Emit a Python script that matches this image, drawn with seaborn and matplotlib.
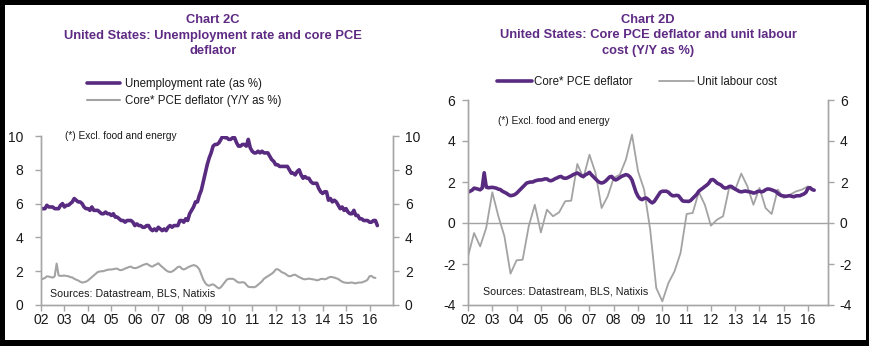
import numpy as np
import pandas as pd
import matplotlib
matplotlib.use("Agg")
import matplotlib.pyplot as plt
import seaborn as sns
from matplotlib.patches import Rectangle

# ---- data -------------------------------------------------------------
# US unemployment rate, monthly, Jan 2002 - May 2016 (%)
unemployment = [
    5.7, 5.7, 5.7, 5.9, 5.8, 5.8, 5.8, 5.7, 5.7, 5.7, 5.9, 6.0,
    5.8, 5.9, 5.9, 6.0, 6.1, 6.3, 6.2, 6.1, 6.1, 6.0, 5.8, 5.7,
    5.7, 5.6, 5.8, 5.6, 5.6, 5.6, 5.5, 5.4, 5.4, 5.5, 5.4, 5.4,
    5.3, 5.4, 5.2, 5.2, 5.1, 5.0, 5.0, 4.9, 5.0, 5.0, 5.0, 4.9,
    4.7, 4.8, 4.7, 4.7, 4.6, 4.6, 4.7, 4.7, 4.5, 4.4, 4.5, 4.4,
    4.6, 4.5, 4.4, 4.5, 4.4, 4.6, 4.7, 4.6, 4.7, 4.7, 4.7, 5.0,
    5.0, 4.9, 5.1, 5.0, 5.4, 5.6, 5.8, 6.1, 6.1, 6.5, 6.8, 7.3,
    7.8, 8.3, 8.7, 9.0, 9.4, 9.5, 9.5, 9.6, 9.8, 10.0, 9.9, 9.9,
    9.8, 9.8, 9.9, 9.9, 9.6, 9.4, 9.4, 9.5, 9.5, 9.4, 9.8, 9.3,
    9.1, 9.0, 9.0, 9.1, 9.0, 9.1, 9.0, 9.0, 9.0, 8.8, 8.6, 8.5,
    8.3, 8.3, 8.2, 8.2, 8.2, 8.2, 8.2, 8.0, 7.8, 7.8, 7.7, 7.9,
    8.0, 7.7, 7.5, 7.6, 7.5, 7.5, 7.3, 7.2, 7.2, 7.2, 6.9, 6.7,
    6.6, 6.7, 6.7, 6.2, 6.3, 6.1, 6.2, 6.1, 5.9, 5.7, 5.8, 5.6,
    5.7, 5.5, 5.4, 5.4, 5.6, 5.3, 5.3, 5.1, 5.1, 5.0, 5.0, 5.0,
    4.9, 4.9, 5.0, 5.0, 4.7,
]

# Core PCE deflator (excl. food and energy), Y/Y %, monthly, Jan 2002 - Apr 2016
core_pce = [
    1.50, 1.55, 1.60, 1.70, 1.68, 1.65, 1.62, 1.70, 2.45, 1.75, 1.72, 1.73,
    1.74, 1.72, 1.70, 1.65, 1.63, 1.55, 1.50, 1.45, 1.38, 1.33, 1.35, 1.38,
    1.45, 1.55, 1.65, 1.75, 1.85, 1.95, 1.98, 2.00, 2.00, 2.05, 2.08, 2.10,
    2.10, 2.12, 2.15, 2.15, 2.08, 2.06, 2.10, 2.16, 2.20, 2.25, 2.27, 2.20,
    2.18, 2.20, 2.25, 2.30, 2.36, 2.40, 2.44, 2.38, 2.30, 2.27, 2.35, 2.40,
    2.47, 2.35, 2.25, 2.15, 2.05, 1.98, 1.95, 1.98, 2.05, 2.15, 2.25, 2.27,
    2.15, 2.10, 2.15, 2.22, 2.28, 2.32, 2.36, 2.33, 2.25, 2.10, 1.80, 1.50,
    1.30, 1.18, 1.14, 1.20, 1.22, 1.15, 1.05, 0.98, 1.05, 1.20, 1.35, 1.50,
    1.55, 1.55, 1.55, 1.50, 1.40, 1.33, 1.33, 1.35, 1.33, 1.20, 1.08, 1.06,
    1.06, 1.05, 1.10, 1.20, 1.30, 1.40, 1.55, 1.63, 1.70, 1.78, 1.85, 1.95,
    2.10, 2.12, 2.05, 1.95, 1.90, 1.85, 1.75, 1.70, 1.72, 1.78, 1.79, 1.72,
    1.65, 1.60, 1.54, 1.52, 1.54, 1.56, 1.54, 1.52, 1.50, 1.46, 1.48, 1.54,
    1.55, 1.52, 1.55, 1.62, 1.66, 1.65, 1.62, 1.58, 1.54, 1.45, 1.38, 1.33,
    1.32, 1.30, 1.32, 1.33, 1.30, 1.28, 1.32, 1.33, 1.33, 1.38, 1.42, 1.50,
    1.70, 1.72, 1.63, 1.60,
]

# Unit labour cost, Y/Y %, quarterly, 2002 Q1 - 2016 Q1
unit_labour_cost = [
    -1.63, -0.49, -1.14, -0.24,
    1.50, 0.33, -0.65, -2.47,
    -1.82, -1.79, -0.16, 0.89,
    -0.46, 0.65, 0.33, 0.52,
    1.06, 1.09, 2.88, 2.20,
    3.33, 2.44, 0.73, 1.30,
    2.20, 2.36, 3.09, 4.31,
    2.52, 1.63, -0.33, -3.17,
    -3.82, -2.93, -2.36, -1.46,
    0.44, 0.49, 1.51, 0.89,
    -0.13, 0.16, 0.33, 1.71,
    1.63, 2.41, 1.79, 0.89,
    1.71, 0.73, 0.44, 1.63,
    1.22, 1.38, 1.54, 1.63,
    1.79,
]

year_ticks = list(range(2002, 2017))
year_labels = ["02", "03", "04", "05", "06", "07", "08", "09",
               "10", "11", "12", "13", "14", "15", "16"]

START = 2002.0
df_unemp = pd.DataFrame({"t": START + np.arange(len(unemployment)) / 12,
                         "v": unemployment})
df_pce = pd.DataFrame({"t": START + np.arange(len(core_pce)) / 12,
                       "v": core_pce})
df_ulc = pd.DataFrame({"t": START + np.arange(len(unit_labour_cost)) / 4,
                       "v": unit_labour_cost})

# ---- style ------------------------------------------------------------
sns.set_style("white")
plt.rcParams["font.family"] = ["Liberation Sans", "DejaVu Sans"]

PURPLE = "#582a80"
TITLE_PURPLE = "#5e2a84"
GREY = "#a3a3a3"
SPINE = "#a6a6a6"
TEXT = "#1a1a1a"

W, H = 870, 346
fig = plt.figure(figsize=(W / 100, H / 100), dpi=100)
fig.patch.set_facecolor("white")


def fx(px):
    return px / W


def fy(py):
    return 1 - py / H


def style_axes(ax, ax_r, ylim, yticks, xlim, lpad, rpad):
    ax.set_xlim(*xlim)
    ax.set_ylim(*ylim)
    ax_r.set_ylim(*ylim)
    ax.set_yticks(yticks)
    ax_r.set_yticks(yticks)
    ax.set_yticklabels([str(t) for t in yticks])
    ax_r.set_yticklabels([str(t) for t in yticks])
    ax.set_xticks(year_ticks)
    ax.set_xticklabels(year_labels)
    ax.set_xlabel("")
    ax.set_ylabel("")
    ax_r.set_ylabel("")
    for a in (ax, ax_r):
        a.spines["top"].set_visible(False)
        for s in ("left", "right", "bottom"):
            a.spines[s].set_color(SPINE)
            a.spines[s].set_linewidth(1.0)
        a.grid(False)
    ax.tick_params(axis="y", left=True, length=4, width=1, color=SPINE,
                   labelsize=10, labelcolor=TEXT, pad=lpad, direction="out")
    ax.tick_params(axis="x", bottom=True, length=4, width=1, color=SPINE,
                   labelsize=10, labelcolor=TEXT, pad=1.5, direction="out")
    ax_r.tick_params(axis="y", right=True, length=4, width=1, color=SPINE,
                     labelsize=10, labelcolor=TEXT, pad=rpad, direction="out")


# ---- Chart 2C ---------------------------------------------------------
ax1 = fig.add_axes([fx(41), fy(305), fx(393) - fx(41), fy(136) - fy(305)])
sns.lineplot(data=df_pce, x="t", y="v", ax=ax1, color=GREY, linewidth=1.5,
             label="Core* PCE deflator (Y/Y as %)", legend=False)
sns.lineplot(data=df_unemp, x="t", y="v", ax=ax1, color=PURPLE,
             linewidth=2.6, label="Unemployment rate (as %)", legend=False)
ax1r = ax1.twinx()
style_axes(ax1, ax1r, (0, 10), [0, 2, 4, 6, 8, 10], (2002, 2017), 9, 4.5)

h1 = ax1.get_lines()
fig.legend([h1[1], h1[0]],
           ["Unemployment rate (as %)", "Core* PCE deflator (Y/Y as %)"],
           loc="upper left", bbox_to_anchor=(fx(87), fy(78)),
           bbox_transform=fig.transFigure, frameon=False, fontsize=8.3,
           handlelength=2.9, handletextpad=0.4, labelspacing=0.4,
           borderpad=0, borderaxespad=0, labelcolor=TEXT)

fig.text(fx(65), fy(136), "(*) Excl. food and energy", fontsize=7.3,
         color=TEXT, ha="left", va="center")
fig.text(fx(50), fy(294), "Sources: Datastream, BLS, Natixis", fontsize=7.7,
         color=TEXT, ha="left", va="center")

# ---- Chart 2D ---------------------------------------------------------
ax2 = fig.add_axes([fx(468), fy(305), fx(828) - fx(468), fy(100) - fy(305)])
ax2.axhline(0, color=GREY, linewidth=1.0, zorder=1)
sns.lineplot(data=df_ulc, x="t", y="v", ax=ax2, color=GREY, linewidth=1.3,
             label="Unit labour cost", legend=False)
sns.lineplot(data=df_pce, x="t", y="v", ax=ax2, color=PURPLE, linewidth=2.6,
             label="Core* PCE deflator", legend=False)
ax2r = ax2.twinx()
style_axes(ax2, ax2r, (-4, 6), [-4, -2, 0, 2, 4, 6], (2002, 2016.82), 5, 4.5)

h2 = ax2.get_lines()
fig.legend([h2[2], h2[1]], ["Core* PCE deflator", "Unit labour cost"],
           loc="upper left", bbox_to_anchor=(fx(497), fy(76)),
           bbox_transform=fig.transFigure, frameon=False, fontsize=8.3,
           ncol=2, handlelength=3.0, handletextpad=0.25, columnspacing=2.3,
           borderpad=0, borderaxespad=0, labelcolor=TEXT)

fig.text(fx(498), fy(121), "(*) Excl. food and energy", fontsize=7.3,
         color=TEXT, ha="left", va="center")
fig.text(fx(483), fy(291), "Sources: Datastream, BLS, Natixis", fontsize=7.7,
         color=TEXT, ha="left", va="center")

# ---- titles -----------------------------------------------------------
titles = [
    (213, ["Chart 2C", "United States: Unemployment rate and core PCE",
           "deflator"]),
    (648, ["Chart 2D", "United States: Core PCE deflator and unit labour",
           "cost (Y/Y as %)"]),
]
for cx, lines in titles:
    for line, cy in zip(lines, (20, 35.5, 51)):
        fig.text(fx(cx), fy(cy), line, fontsize=9.3, fontweight="bold",
                 color=TITLE_PURPLE, ha="center", va="center")

# ---- black frame ------------------------------------------------------
for (x0, y0, w, h) in [(0, 0, W, 5), (0, 340, W, 6), (0, 0, 5, H),
                       (866, 0, 4, H)]:
    fig.patches.append(Rectangle((fx(x0), fy(y0 + h)), w / W, h / H,
                                 transform=fig.transFigure, facecolor="black",
                                 edgecolor="none", zorder=10))

fig.savefig("out.png", dpi=100, facecolor="white")
